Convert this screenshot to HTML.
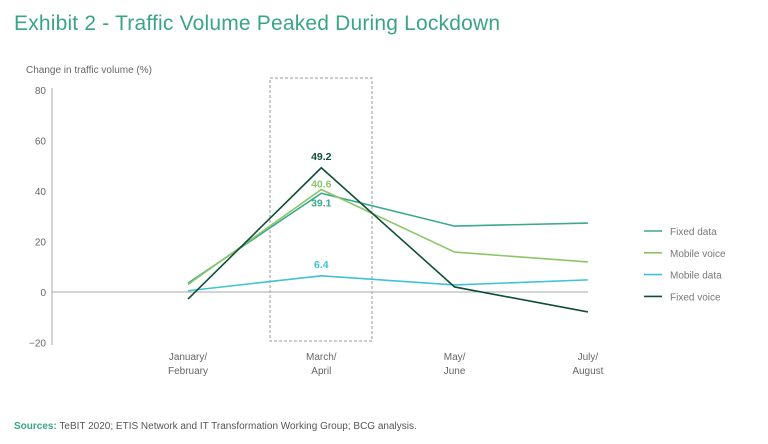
<!DOCTYPE html>
<html><head><meta charset="utf-8"><style>
body{margin:0;background:#fff;font-family:"Liberation Sans",sans-serif;}
#wrap{position:relative;width:768px;height:444px;overflow:hidden;}
</style></head><body>
<div id="wrap">
<svg id="svg" width="768" height="444" xmlns="http://www.w3.org/2000/svg">
<text x="14" y="30" font-size="21" textLength="486" fill="#3aa584">Exhibit 2 - Traffic Volume Peaked During Lockdown</text>
<text x="26" y="73" font-size="10" fill="#666">Change in traffic volume (%)</text>
<rect x="270" y="78" width="102" height="263" fill="none" stroke="#999" stroke-dasharray="3,2"/>
<line x1="52" y1="88" x2="52" y2="345" stroke="#aaa" stroke-width="1"/>
<g id="yt"></g><g id="xt"></g><g id="lines"></g><g id="legend"></g>
<text x="14" y="429" font-size="10" fill="#555"><tspan font-weight="bold" fill="#3aa584">Sources:</tspan> TeBIT 2020; ETIS Network and IT Transformation Working Group; BCG analysis.</text>
</svg>
</div>
<script>
const categories=[["January/","February"],["March/","April"],["May/","June"],["July/","August"]];
const yTicks=[80,60,40,20,0,-20];
const seriesNames=["Fixed data","Mobile voice","Mobile data","Fixed voice"];
const fixedData=[3.5,39.1,26.1,27.3];
const mobileVoice=[3,40.6,15.8,11.9];
const mobileData=[0.5,6.4,2.8,4.8];
const fixedVoice=[-2.8,49.2,2,-7.9];
const seriesColors=["#3aa98d","#8cc66b","#3ec3d5","#0f4f36"];
const peakLabels=[{s:3,t:"49.2",dy:-8},{s:1,t:"40.6",dy:-2},{s:0,t:"39.1",dy:13},{s:2,t:"6.4",dy:-8}];
const NS="http://www.w3.org/2000/svg";
const y=v=>292-v*2.525;
const x=i=>188+i*133.3;
function mk(t,a,p){const e=document.createElementNS(NS,t);for(const k in a)e.setAttribute(k,a[k]);p.appendChild(e);return e;}
const yt=document.getElementById('yt');
yTicks.forEach(v=>{const t=mk('text',{x:46,y:y(v)+4,'font-size':10,fill:'#666','text-anchor':'end'},yt);t.textContent=v<0?'\u2212'+(-v):v;

});
const zl=mk('line',{x1:52,y1:y(0),x2:588,y2:y(0),stroke:'#aaa'},yt);


const xt=document.getElementById('xt');
categories.forEach((c,i)=>{c.forEach((s,j)=>{const t=mk('text',{x:x(i),y:360+j*14,'font-size':10,fill:'#666','text-anchor':'middle'},xt);t.textContent=s;

});});
const all=[fixedData,mobileVoice,mobileData,fixedVoice];
const lg=document.getElementById('lines');
all.forEach((d,s)=>{const p=mk('polyline',{points:d.map((v,i)=>x(i)+','+y(v)).join(' '),fill:'none',stroke:seriesColors[s],'stroke-width':1.6},lg);

});
peakLabels.forEach(l=>{const t=mk('text',{x:x(1),y:y(all[l.s][1])+l.dy,'font-size':10.5,'font-weight':'bold',fill:seriesColors[l.s],'text-anchor':'middle'},lg);t.textContent=l.t;

});
const leg=document.getElementById('legend');
seriesNames.forEach((n,i)=>{const g=mk('g',{},leg);


mk('line',{x1:644,x2:662,y1:231+i*21.8,y2:231+i*21.8,stroke:seriesColors[i],'stroke-width':1.6},g);
const t=mk('text',{x:670,y:235+i*21.8,'font-size':10,fill:'#777'},g);t.textContent=n;});
</script>
</body></html>
